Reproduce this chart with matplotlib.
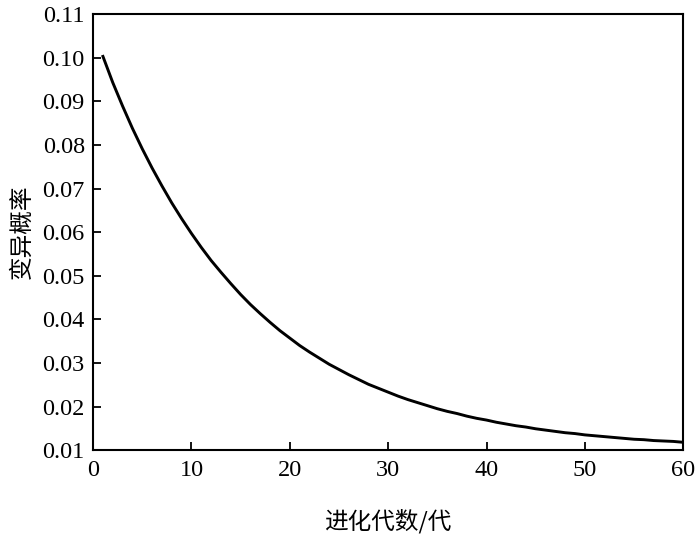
import matplotlib
matplotlib.use("Agg")
import matplotlib.pyplot as plt

generations = list(range(1, 61))
mutation_prob = [
    0.1003, 0.0943, 0.0889, 0.0838, 0.0791, 0.0747, 0.0706, 0.0667, 0.0631, 0.0597,
    0.0565, 0.0535, 0.0508, 0.0482, 0.0457, 0.0434, 0.0413, 0.0393, 0.0374, 0.0357,
    0.0340, 0.0325, 0.0311, 0.0297, 0.0285, 0.0273, 0.0262, 0.0251, 0.0242, 0.0233,
    0.0224, 0.0216, 0.0209, 0.0202, 0.0195, 0.0189, 0.0184, 0.0178, 0.0173, 0.0169,
    0.0164, 0.0160, 0.0156, 0.0153, 0.0149, 0.0146, 0.0143, 0.0140, 0.0138, 0.0135,
    0.0133, 0.0131, 0.0129, 0.0127, 0.0125, 0.0124, 0.0122, 0.0121, 0.0120, 0.0118,
]
x_ticks = [0, 10, 20, 30, 40, 50, 60]
y_ticks = [0.01, 0.02, 0.03, 0.04, 0.05, 0.06, 0.07, 0.08, 0.09, 0.10, 0.11]
x_label = "进化代数/代"
y_label = "变异概率"

num_font = ["Liberation Serif", "DejaVu Serif"]
cjk_font = ["Noto Sans CJK SC", "Liberation Serif", "DejaVu Sans"]

fig = plt.figure(figsize=(7.0, 5.43), dpi=100)
ax = fig.add_axes([0.133, 0.171, 0.843, 0.803])
ax.plot(generations, mutation_prob, color="black", linewidth=2.1)

ax.set_xlim(0, 60)
ax.set_ylim(0.01, 0.11)
ax.set_xticks(x_ticks)
ax.set_yticks(y_ticks)
ax.set_xticklabels([str(v) for v in x_ticks], fontfamily=num_font, fontsize=17.5)
ax.set_yticklabels([f"{v:.2f}" for v in y_ticks], fontfamily=num_font, fontsize=17.5)
ax.tick_params(axis="both", direction="in", length=6, width=1.3, top=False, right=False)
ax.tick_params(axis="y", pad=6)
ax.tick_params(axis="x", pad=7)
for s in ax.spines.values():
    s.set_linewidth(1.5)

ax.set_xlabel(x_label, fontfamily=cjk_font, fontsize=17, labelpad=20)
ax.set_ylabel(y_label, fontfamily=cjk_font, fontsize=17, labelpad=6)

fig.savefig("out.png", dpi=100)
